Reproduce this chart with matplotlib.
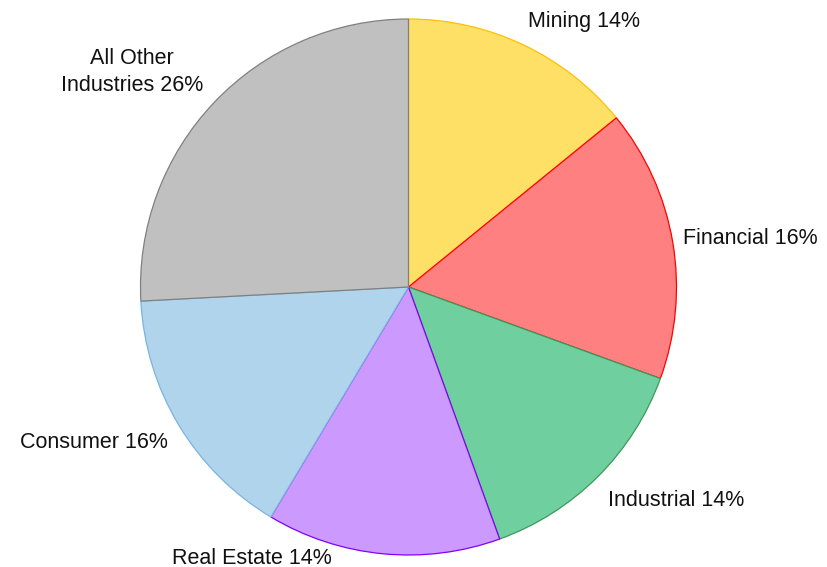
import matplotlib.pyplot as plt

plt.rcParams['font.family'] = ['Liberation Sans', 'DejaVu Sans']

INDUSTRIES = ["Mining", "Financial", "Industrial", "Real Estate", "Consumer",
              "All Other\nIndustries"]
SHARES = [14.13, 16.42, 13.93, 14.11, 15.58, 25.84]

FILL_COLORS = ["#FFE066", "#FF8080", "#6FCF9F", "#CC99FF", "#B0D4EC", "#C0C0C0"]
EDGE_COLORS = ["#FFC000", "#FF0000", "#3A9A5A", "#8000FF", "#7AB4E0", "#808080"]

# label centres in pixels (from top-left), placed like the original chart
LABEL_POS = [(584, 22), (750, 238), (676, 500), (252, 558), (94, 442), (132, 72)]

W, H = 828, 567
fig = plt.figure(figsize=(W / 100, H / 100), dpi=100)
ax = fig.add_axes([0, 0, 1, 1])

labels = [f"{name} {round(v)}%" for name, v in zip(INDUSTRIES, SHARES)]
wedges, texts = ax.pie(SHARES, labels=labels, center=(408.5, H - 287),
                       radius=268, startangle=90, counterclock=False,
                       colors=FILL_COLORS, frame=True,
                       textprops=dict(fontsize=15.5, color='#111111'))

for w, ec in zip(wedges, EDGE_COLORS):
    w.set_edgecolor(ec)
    w.set_linewidth(0.9)

for t, (px, py) in zip(texts, LABEL_POS):
    t.set_position((px, H - py))
    t.set_horizontalalignment('center')
    t.set_verticalalignment('center')
    t.set_multialignment('center')
    t.set_linespacing(1.35)

ax.set_xlim(0, W)
ax.set_ylim(0, H)
ax.set_aspect('equal')
ax.axis('off')

fig.savefig('out.png', dpi=100)
